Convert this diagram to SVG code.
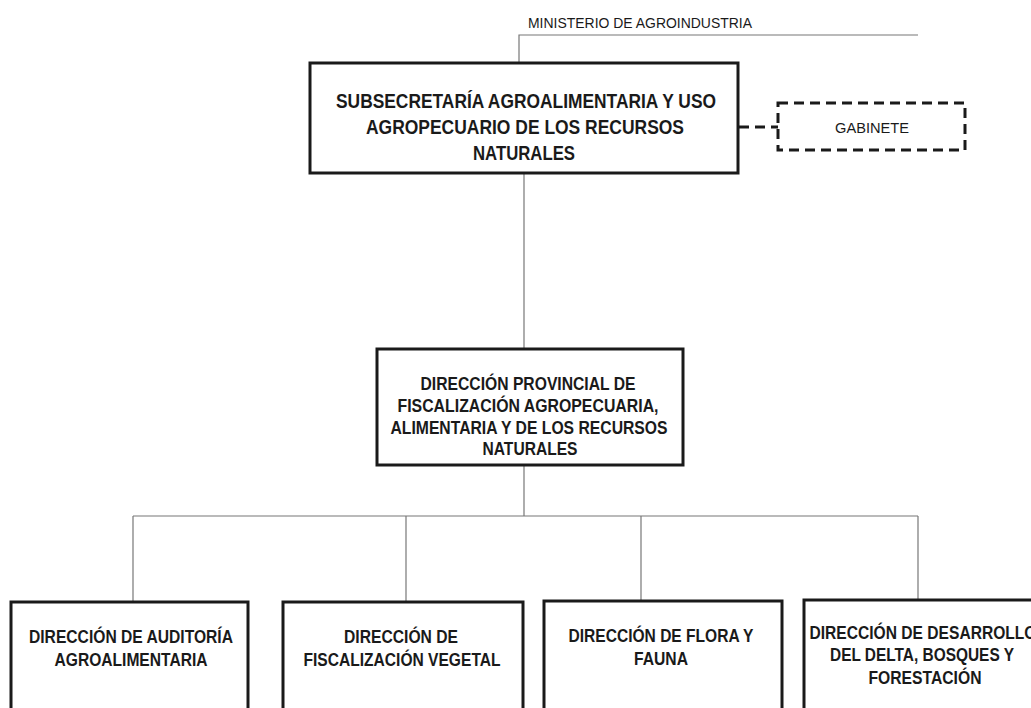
<svg xmlns="http://www.w3.org/2000/svg" width="1031" height="708" viewBox="0 0 1031 708">
<style>
.box{fill:#fff;stroke:#1a1a1a;stroke-width:3}
.dbox{fill:#fff;stroke:#1a1a1a;stroke-width:3;stroke-dasharray:10 6}
.ln{fill:none;stroke:#777;stroke-width:1.2}
.dl{fill:none;stroke:#1a1a1a;stroke-width:3;stroke-dasharray:10 6}
.t{font-family:"Liberation Sans",Arial,sans-serif;font-weight:bold;font-size:19px;fill:#1a1a1a;text-anchor:middle}
.tb{font-family:"Liberation Sans",Arial,sans-serif;font-weight:bold;font-size:21px;fill:#1a1a1a;text-anchor:middle}
.r{font-family:"Liberation Sans",Arial,sans-serif;font-size:14px;fill:#1a1a1a}
</style>
<rect width="1031" height="708" fill="#fff"/>
<g id="connectors">
<polyline class="ln" points="519,63 519,35 918,35"/>
<line class="ln" x1="524" y1="173" x2="524" y2="349"/>
<line class="dl" x1="739" y1="127" x2="778" y2="127"/>
<line class="ln" x1="524" y1="465" x2="524" y2="516"/>
<line class="ln" x1="133" y1="516" x2="918" y2="516"/>
<line class="ln" x1="133" y1="516" x2="133" y2="602"/>
<line class="ln" x1="406" y1="516" x2="406" y2="602"/>
<line class="ln" x1="641" y1="516" x2="641" y2="601"/>
<line class="ln" x1="918" y1="516" x2="918" y2="600"/>
</g>
<g id="ministerio">
<text class="r" x="528" y="28" textLength="224" lengthAdjust="spacingAndGlyphs">MINISTERIO DE AGROINDUSTRIA</text>
</g>
<g id="subsecretaria">
<rect class="box" x="310" y="63" width="428" height="110"/>
<text class="tb" x="526" y="108" textLength="380" lengthAdjust="spacingAndGlyphs">SUBSECRETARÍA AGROALIMENTARIA Y USO</text>
<text class="tb" x="525" y="134" textLength="318" lengthAdjust="spacingAndGlyphs">AGROPECUARIO DE LOS RECURSOS</text>
<text class="tb" x="524" y="160" textLength="102" lengthAdjust="spacingAndGlyphs">NATURALES</text>
</g>
<g id="gabinete">
<rect class="dbox" x="778" y="103" width="187" height="47"/>
<text class="r" x="872" y="133" text-anchor="middle" font-size="13" textLength="74" lengthAdjust="spacingAndGlyphs">GABINETE</text>
</g>
<g id="direccion-provincial">
<rect class="box" x="377" y="349" width="306" height="116"/>
<text class="t" x="528" y="390" textLength="215" lengthAdjust="spacingAndGlyphs">DIRECCIÓN PROVINCIAL DE</text>
<text class="t" x="528" y="412" textLength="261" lengthAdjust="spacingAndGlyphs">FISCALIZACIÓN AGROPECUARIA,</text>
<text class="t" x="529" y="434" textLength="277" lengthAdjust="spacingAndGlyphs">ALIMENTARIA Y DE LOS RECURSOS</text>
<text class="t" x="530" y="455" textLength="95" lengthAdjust="spacingAndGlyphs">NATURALES</text>
</g>
<g id="auditoria">
<rect class="box" x="11" y="602" width="237" height="200"/>
<text class="t" x="131" y="643" textLength="204" lengthAdjust="spacingAndGlyphs">DIRECCIÓN DE AUDITORÍA</text>
<text class="t" x="131" y="666" textLength="153" lengthAdjust="spacingAndGlyphs">AGROALIMENTARIA</text>
</g>
<g id="fiscalizacion-vegetal">
<rect class="box" x="283" y="602" width="240" height="200"/>
<text class="t" x="401" y="643" textLength="114" lengthAdjust="spacingAndGlyphs">DIRECCIÓN DE</text>
<text class="t" x="402" y="666" textLength="197" lengthAdjust="spacingAndGlyphs">FISCALIZACIÓN VEGETAL</text>
</g>
<g id="flora-fauna">
<rect class="box" x="544" y="601" width="238" height="200"/>
<text class="t" x="661" y="642" textLength="185" lengthAdjust="spacingAndGlyphs">DIRECCIÓN DE FLORA Y</text>
<text class="t" x="661" y="665" textLength="54" lengthAdjust="spacingAndGlyphs">FAUNA</text>
</g>
<g id="delta">
<rect class="box" x="804" y="600" width="238" height="200"/>
<text class="t" x="923" y="639" textLength="227" lengthAdjust="spacingAndGlyphs">DIRECCIÓN DE DESARROLLO</text>
<text class="t" x="922" y="661" textLength="184" lengthAdjust="spacingAndGlyphs">DEL DELTA, BOSQUES Y</text>
<text class="t" x="925" y="684" textLength="113" lengthAdjust="spacingAndGlyphs">FORESTACIÓN</text>
</g>
</svg>
